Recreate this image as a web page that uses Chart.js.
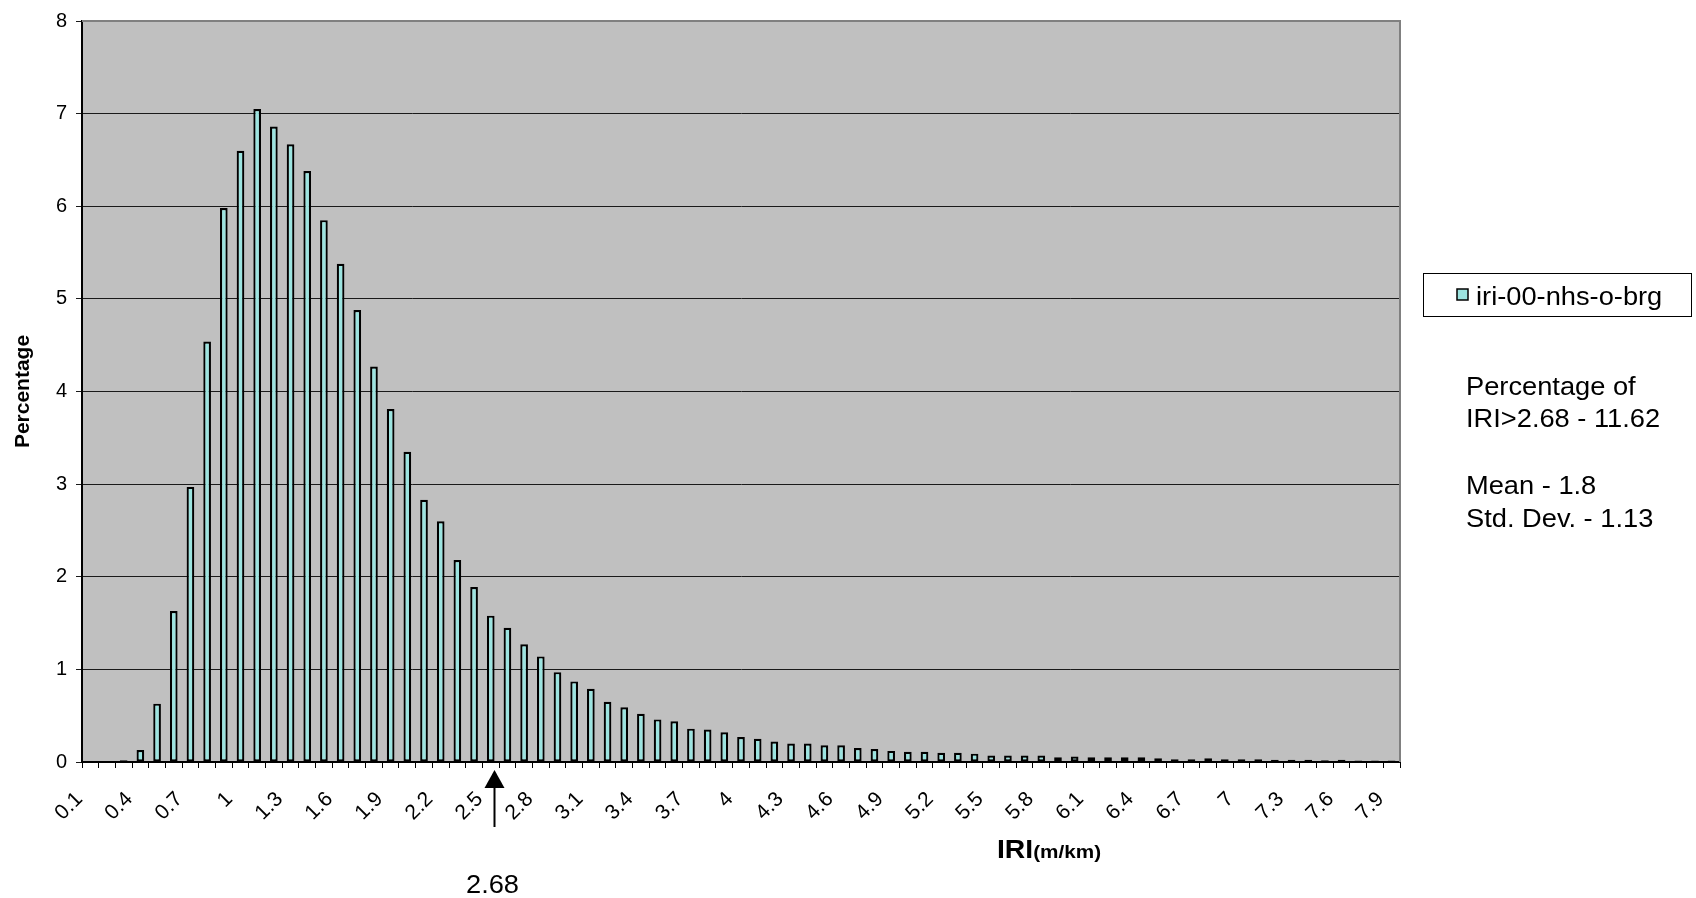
<!DOCTYPE html>
<html>
<head>
<meta charset="utf-8">
<script src="https://cdn.jsdelivr.net/npm/chart.js@4.4.1/dist/chart.umd.min.js"></script>
<style>
  html, body { margin: 0; padding: 0; background: #fff; }
  #wrap { width: 1696px; height: 898px; position: relative; }
</style>
</head>
<body>
<div id="wrap"><canvas id="iriChart"></canvas></div>
<script>
// IRI bins (m/km)
const categories = [
  '0.1', '0.2', '0.3', '0.4', '0.5', '0.6', '0.7', '0.8', '0.9', '1',
  '1.1', '1.2', '1.3', '1.4', '1.5', '1.6', '1.7', '1.8', '1.9', '2',
  '2.1', '2.2', '2.3', '2.4', '2.5', '2.6', '2.7', '2.8', '2.9', '3',
  '3.1', '3.2', '3.3', '3.4', '3.5', '3.6', '3.7', '3.8', '3.9', '4',
  '4.1', '4.2', '4.3', '4.4', '4.5', '4.6', '4.7', '4.8', '4.9', '5',
  '5.1', '5.2', '5.3', '5.4', '5.5', '5.6', '5.7', '5.8', '5.9', '6',
  '6.1', '6.2', '6.3', '6.4', '6.5', '6.6', '6.7', '6.8', '6.9', '7',
  '7.1', '7.2', '7.3', '7.4', '7.5', '7.6', '7.7', '7.8', '7.9'
];

// percentage of sections in each bin
const percentages = [
  0, 0, 0.02, 0.13, 0.63, 1.63, 2.97, 4.54, 5.98, 6.60,
  7.05, 6.86, 6.67, 6.38, 5.85, 5.38, 4.88, 4.27, 3.81, 3.35,
  2.83, 2.60, 2.18, 1.89, 1.58, 1.45, 1.27, 1.14, 0.97, 0.87,
  0.79, 0.65, 0.59, 0.52, 0.46, 0.44, 0.36, 0.35, 0.32, 0.27,
  0.25, 0.22, 0.20, 0.20, 0.18, 0.18, 0.15, 0.14, 0.12, 0.11,
  0.11, 0.10, 0.10, 0.09, 0.07, 0.07, 0.07, 0.07, 0.05, 0.06,
  0.05, 0.05, 0.05, 0.05, 0.04, 0.03, 0.03, 0.04, 0.03, 0.03,
  0.03, 0.025, 0.025, 0.025, 0.02, 0.025, 0.015, 0.015, 0.015
];

// labelled bins on the x axis
const xTickLabels = [
  '0.1', '0.4', '0.7', '1', '1.3', '1.6', '1.9', '2.2', '2.5', '2.8',
  '3.1', '3.4', '3.7', '4', '4.3', '4.6', '4.9', '5.2', '5.5', '5.8',
  '6.1', '6.4', '6.7', '7', '7.3', '7.6', '7.9'
];

const yTicks = [0, 1, 2, 3, 4, 5, 6, 7, 8];

const seriesName = 'iri-00-nhs-o-brg';
const thresholdLabel = '2.68';
const statsLines = ['Percentage of', 'IRI>2.68 - 11.62', '', 'Mean - 1.8', 'Std. Dev. - 1.13'];

const FONT = 'Arial, "Liberation Sans", sans-serif';
const BAR_FILL = '#9ce4e0';
const TEXT_STRETCH = 1.09;

// text drawn a little wider than the font's own proportions
function wideText(ctx, str, x, y, align) {
  ctx.save();
  const w = ctx.measureText(str).width * TEXT_STRETCH;
  let left = x;
  if (align === 'center') left = x - w / 2;
  ctx.translate(left, y);
  ctx.scale(TEXT_STRETCH, 1);
  ctx.textAlign = 'left';
  ctx.fillText(str, 0, 0);
  ctx.restore();
  return w;
}

// grey plot background
const plotBackground = {
  id: 'plotBackground',
  beforeDraw(chart) {
    const { ctx, chartArea: a } = chart;
    ctx.save();
    ctx.fillStyle = '#c0c0c0';
    ctx.fillRect(a.left, a.top, a.right - a.left, a.bottom - a.top);
    ctx.restore();
  }
};

// frame, arrow marker, axis title, legend and notes
const extras = {
  id: 'extras',
  afterDraw(chart) {
    const { ctx, chartArea: a, scales } = chart;
    ctx.save();

    // grey frame on top and right
    ctx.strokeStyle = '#808080';
    ctx.lineWidth = 2;
    ctx.beginPath();
    ctx.moveTo(a.left, a.top);
    ctx.lineTo(a.right, a.top);
    ctx.lineTo(a.right, a.bottom);
    ctx.stroke();

    // arrow at the threshold
    const ax = Math.round(scales.x.getPixelForValue(24.2)) + 0.5;
    const tipY = a.bottom + 8;
    ctx.fillStyle = '#000';
    ctx.strokeStyle = '#000';
    ctx.lineWidth = 2;
    ctx.beginPath();
    ctx.moveTo(ax, tipY + 16);
    ctx.lineTo(ax, tipY + 57);
    ctx.stroke();
    ctx.beginPath();
    ctx.moveTo(ax, tipY);
    ctx.lineTo(ax - 10, tipY + 18);
    ctx.lineTo(ax + 10, tipY + 18);
    ctx.closePath();
    ctx.fill();

    ctx.textBaseline = 'alphabetic';
    ctx.font = '25px ' + FONT;
    wideText(ctx, thresholdLabel, ax - 2, 893, 'center');

    // x axis title: IRI(m/km)
    ctx.font = 'bold 26px ' + FONT;
    const w = wideText(ctx, 'IRI', 997, 858);
    ctx.font = 'bold 19px ' + FONT;
    wideText(ctx, '(m/km)', 997 + w, 858);

    // legend box
    ctx.fillStyle = '#fff';
    ctx.fillRect(1423, 273, 268, 43);
    ctx.strokeStyle = '#000';
    ctx.lineWidth = 1;
    ctx.strokeRect(1423.5, 273.5, 268, 43);
    ctx.fillStyle = BAR_FILL;
    ctx.fillRect(1457, 289, 11, 11);
    ctx.lineWidth = 1.5;
    ctx.strokeRect(1457, 289, 11, 11);
    ctx.fillStyle = '#000';
    ctx.font = '25px ' + FONT;
    wideText(ctx, seriesName, 1476, 305);

    // summary notes
    const baselines = [395, 427, 0, 494, 527];
    statsLines.forEach((line, i) => {
      if (line) wideText(ctx, line, 1466, baselines[i]);
    });

    ctx.restore();
  }
};

new Chart(document.getElementById('iriChart'), {
  type: 'bar',
  data: {
    labels: categories,
    datasets: [{
      label: seriesName,
      data: percentages,
      backgroundColor: BAR_FILL,
      borderColor: '#000',
      borderWidth: 2.2,
      borderSkipped: false,
      barPercentage: 0.46,
      categoryPercentage: 1
    }]
  },
  options: {
    responsive: true,
    maintainAspectRatio: false,
    animation: false,
    layout: { padding: { left: 0, top: 17, right: 296, bottom: 0 } },
    plugins: {
      legend: { display: false },
      tooltip: { enabled: false }
    },
    scales: {
      x: {
        grid: {
          offset: true,
          drawOnChartArea: false,
          drawTicks: true,
          tickLength: 6,
          color: '#000'
        },
        border: { color: '#000', width: 2 },
        ticks: {
          autoSkip: false,
          maxRotation: 45,
          minRotation: 45,
          padding: 19,
          labelOffset: -11,
          color: '#000',
          font: { family: FONT, size: 21 },
          callback(value) {
            const lbl = this.getLabelForValue(value);
            return xTickLabels.includes(lbl) ? lbl : '';
          }
        },
        afterFit(scale) { scale.height = 136; }
      },
      y: {
        min: yTicks[0],
        max: yTicks[yTicks.length - 1],
        grid: { color: '#1a1a1a', lineWidth: 1, tickLength: 6 },
        border: { color: '#000', width: 2 },
        ticks: {
          stepSize: 1,
          padding: 9,
          color: '#000',
          font: { family: FONT, size: 20 }
        },
        title: {
          display: true,
          text: 'Percentage',
          color: '#000',
          font: { family: FONT, size: 21, weight: 'bold' },
          padding: { top: 11, bottom: 0 }
        },
        afterFit(scale) { scale.width = 82; }
      }
    }
  },
  plugins: [plotBackground, extras]
});
</script>
</body>
</html>
